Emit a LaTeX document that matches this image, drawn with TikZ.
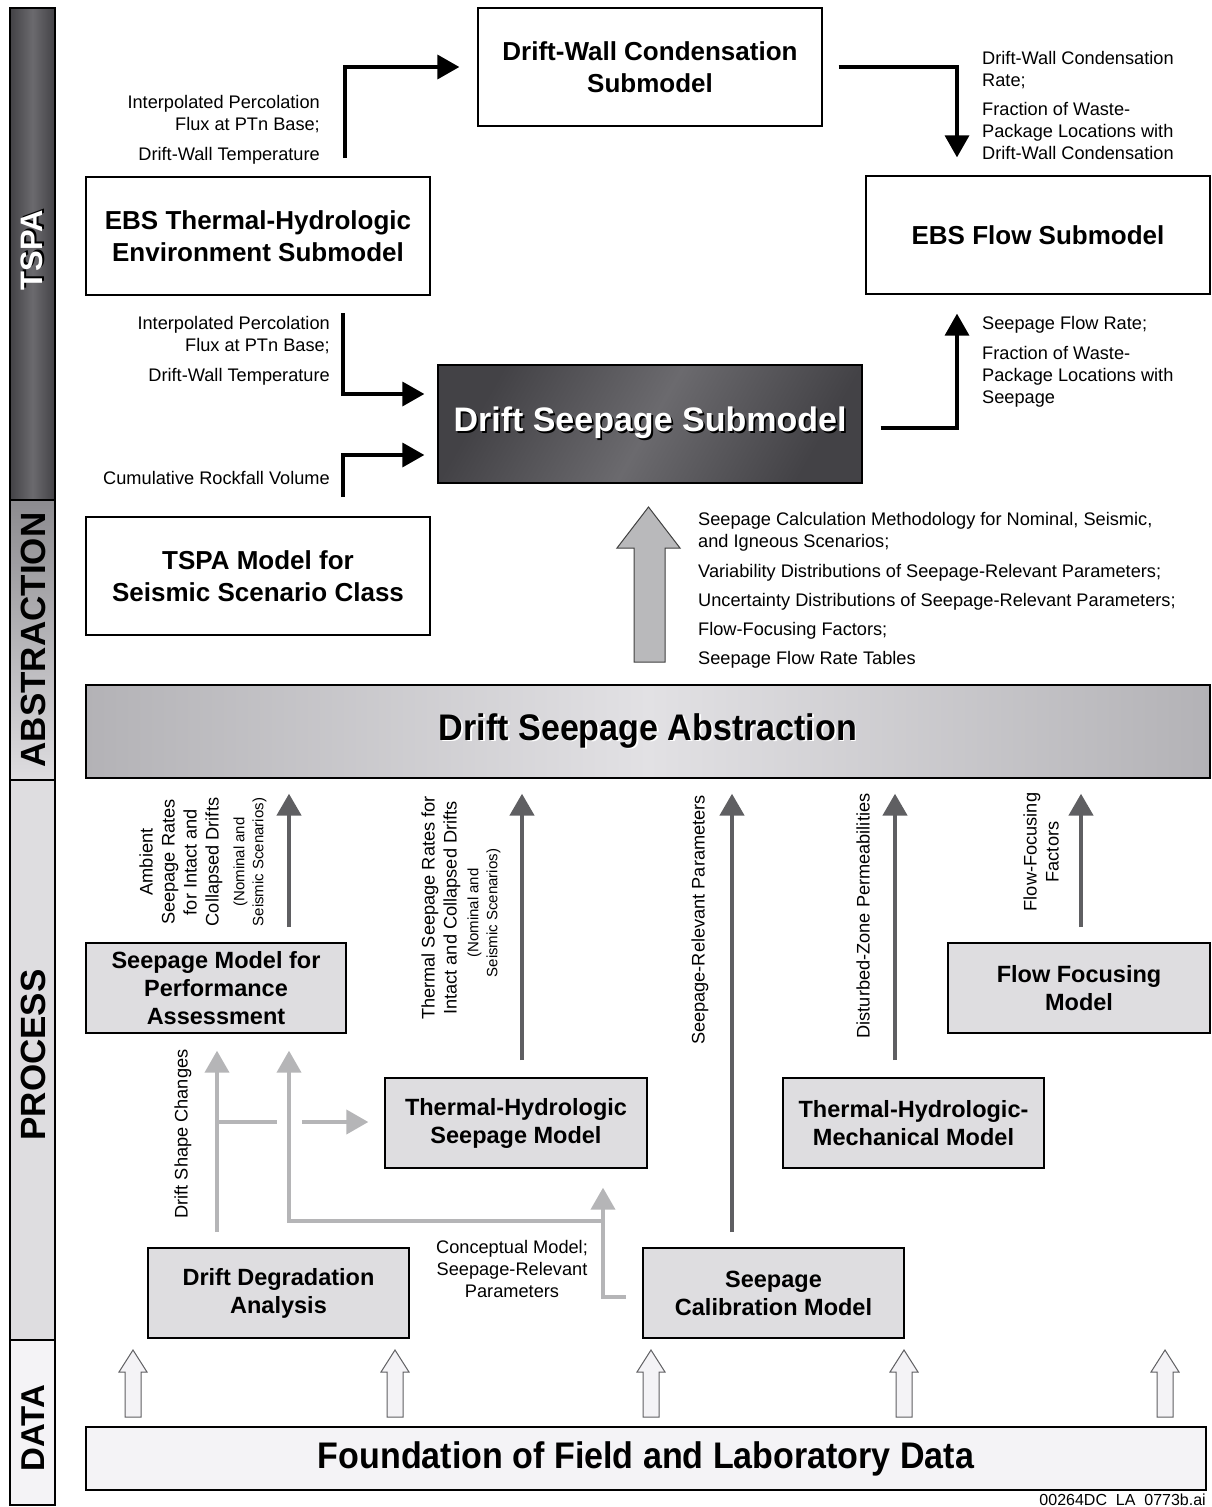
\documentclass[tikz,border=0pt]{standalone}
\usepackage{fontspec}
\setmainfont{Liberation Sans}
\usetikzlibrary{arrows.meta}

\definecolor{tspadark}{HTML}{434246}
\definecolor{tspalight}{HTML}{6B6A6E}
\definecolor{absdark}{HTML}{8C8B8F}
\definecolor{proclight}{HTML}{DEDDE0}
\definecolor{datalight}{HTML}{F4F3F6}
\definecolor{procgray}{HTML}{5F5F62}
\definecolor{auxgray}{HTML}{B5B5B7}
\definecolor{bigarrow}{HTML}{B9B9BB}
\definecolor{dsaedge}{HTML}{B3B2B6}
\definecolor{dsamid}{HTML}{E2E1E4}

\newcommand\fs[2]{\fontsize{#1}{#2}\selectfont}
\newcommand\castshadow[3]{\leavevmode\rlap{\hspace{1.8pt}\raisebox{-1.8pt}{\color{#2}#3}}{\color{#1}#3}}
\newcommand\narrowtext[2]{\scalebox{#1}[1]{#2}}

\begin{document}
\begin{tikzpicture}[x=1pt, y=-1pt, >={Triangle[length=22pt,width=24pt]},
    tbox/.style={draw, line width=1.3pt, fill=white, align=center, inner sep=0pt,
        minimum width=344pt, minimum height=118pt, font=\fs{26}{32}\bfseries},
    pbox/.style={draw, line width=1.3pt, fill=proclight, align=center, inner sep=0pt,
        minimum width=261pt, minimum height=90pt, font=\fs{23.5}{28}\bfseries},
    note/.style={inner sep=0pt, font=\fs{18.2}{22}},
    scen/.style={inner sep=0pt, font=\fs{15}{19}, align=center, rotate=90},
    flow/.style={->, line width=3.5pt},
    proc/.style={->, draw=procgray, line width=4.5pt},
    aux/.style={draw=auxgray, line width=4pt},
    band/.style={font=\fs{35}{35}\bfseries, rotate=90, inner sep=0pt}]
    \useasboundingbox (0,0) rectangle (1211,1507);
    % side bands
    \shade[left color=tspadark, right color=tspadark, middle color=tspalight] (10,8) rectangle (55,500);
    \shade[top color=absdark, bottom color=proclight] (10,500) rectangle (55,780);
    \fill[proclight] (10,780) rectangle (55,1340);
    \fill[datalight] (10,1340) rectangle (55,1505);
    \draw[line width=1.2pt] (10,8) rectangle (55,1505);
    \draw[line width=1.2pt] (10,500) -- (55,500) (10,780) -- (55,780) (10,1340) -- (55,1340);
    \node[band, font=\fs{31}{31}\bfseries] (tspalbl) at (33,250) {\castshadow{white}{black}{TSPA}};
    \node[band] (abslbl) at (33,640) {ABSTRACTION};
    \node[band] (proclbl) at (33,1055) {PROCESS};
    \node[band, font=\fs{33}{33}\bfseries] (datalbl) at (33,1428) {DATA};
    % TSPA boxes
    \node[tbox] (dwc) at (650,67) {Drift-Wall Condensation\\Submodel};
    \node[tbox] (ebsth) at (258,236) {EBS Thermal-Hydrologic\\Environment Submodel};
    \node[tbox] (ebsflow) at (1038,235) {EBS Flow Submodel};
    \node[draw, line width=1.3pt, minimum width=424pt, minimum height=118pt, inner sep=0pt,
        left color=tspadark, right color=tspadark, middle color=tspalight, shading angle=60,
        font=\fs{34}{34}\bfseries] (dss) at (650,424) {\raisebox{-3pt}{\castshadow{white}{black}{Drift Seepage Submodel}}};
    \node[tbox] (tspaseis) at (258,576) {TSPA Model for\\Seismic Scenario Class};
    % abstraction
    \node[draw, line width=1.3pt, minimum width=1124pt, minimum height=93pt, inner sep=0pt,
        left color=dsaedge, right color=dsaedge, middle color=dsamid,
        font=\fs{37}{37}\bfseries] (dsa) at (648,731.5) {\raisebox{-3pt}{\castshadow{black}{white}{\narrowtext{0.92}{Drift Seepage Abstraction}}}};
    % process boxes
    \node[pbox, minimum width=260pt] (spa) at (216,988) {Seepage Model for\\Performance\\Assessment};
    \node[pbox, minimum width=262pt] (thsm) at (516,1123) {Thermal-Hydrologic\\Seepage Model};
    \node[pbox] (thmm) at (913.5,1123) {Thermal-Hydrologic-\\Mechanical Model};
    \node[pbox, minimum width=262pt] (ffm) at (1079,988) {Flow Focusing\\Model};
    \node[pbox] (dda) at (278.5,1293) {Drift Degradation\\Analysis};
    \node[pbox] (scm) at (773.5,1293) {Seepage\\Calibration Model};
    % data
    \node[draw, line width=1.3pt, fill=datalight, minimum width=1120pt, minimum height=63pt, inner sep=0pt,
        font=\fs{37}{37}\bfseries] (found) at (646,1458.5) {\raisebox{-3pt}{\narrowtext{0.92}{Foundation of Field and Laboratory Data}}};
    \node[anchor=east, inner sep=0pt, font=\fs{16}{16}] (fileid) at (1206,1500) {00264DC\ \ LA\ \ 0773b.ai};
    \foreach \x in {133,395,651,904,1165}
        \draw[draw=procgray, fill=datalight, line width=1pt] (\x-8,1417) -- (\x-8,1372) -- (\x-14,1372) -- (\x,1350)
            -- (\x+14,1372) -- (\x+8,1372) -- (\x+8,1417) -- cycle;
    % TSPA connections
    \coordinate (thtail) at (345,158);
    \coordinate (pctail) at (343,313);
    \coordinate (rftail) at (343,497);
    \draw[flow, shorten >=18pt] (thtail) |- (dwc.west);
    \draw[flow, shorten <=16pt, shorten >=18pt] (dwc.east) -| ([xshift=-81pt]ebsflow.north);
    \draw[flow, shorten >=13pt] (pctail) |- ([yshift=30pt]dss.west);
    \draw[flow, shorten >=13pt] (rftail) |- ([yshift=-31pt]dss.west);
    \draw[flow, shorten <=18pt, shorten >=19pt] ([yshift=-4pt]dss.east) -| ([xshift=-81pt]ebsflow.south);
    \node[note, anchor=north east, align=right] (pcnote1) at (320,95) {Interpolated Percolation\\Flux at PTn Base;\\[8pt]Drift-Wall Temperature};
    \node[note, anchor=north west, align=left] (dwcnote) at (982,51) {Drift-Wall Condensation\\Rate;\\[7pt]Fraction of Waste-\\Package Locations with\\Drift-Wall Condensation};
    \node[note, anchor=north east, align=right] (pcnote2) at (330,316) {Interpolated Percolation\\Flux at PTn Base;\\[8pt]Drift-Wall Temperature};
    \node[note, anchor=east] (rfnote) at (330,478) {Cumulative Rockfall Volume};
    \node[note, anchor=north west, align=left] (sfnote) at (982,316) {Seepage Flow Rate;\\[8pt]Fraction of Waste-\\Package Locations with\\Seepage};
    % abstraction to TSPA
    \draw[draw=black!75, fill=bigarrow, line width=1pt] (634,662) -- (634,548) -- (617,548) -- (648.5,507)
        -- (680,548) -- (665,548) -- (665,662) -- cycle;
    \node[note, anchor=north west, align=left] (absnote) at (698,512) {Seepage Calculation Methodology for Nominal, Seismic,\\and Igneous Scenarios;\\[8pt]Variability Distributions of Seepage-Relevant Parameters;\\[7pt]Uncertainty Distributions of Seepage-Relevant Parameters;\\[7pt]Flow-Focusing Factors;\\[7pt]Seepage Flow Rate Tables};
    % process to abstraction
    \coordinate (ambtail) at (289,927);
    \coordinate (thermtail) at (522,1060);
    \coordinate (sprtail) at (732,1232);
    \coordinate (dztail) at (895,1060);
    \coordinate (fftail) at (1081,927);
    \foreach \t in {ambtail,thermtail,sprtail,dztail,fftail}
        \draw[proc, shorten >=15pt] (\t) -- (\t |- dsa.south);
    \node[note, rotate=90, align=center] (ambnote) at (181,862) {Ambient\\Seepage Rates\\for Intact and\\Collapsed Drifts};
    \node[scen] (ambscen) at (250,862) {(Nominal and\\Seismic Scenarios)};
    \node[note, rotate=90, align=center] (thnote) at (441,908) {Thermal Seepage Rates for\\Intact and Collapsed Drifts};
    \node[scen] (thscen) at (484,913) {(Nominal and\\Seismic Scenarios)};
    \node[note, rotate=90] (sprnote) at (700,920) {Seepage-Relevant Parameters};
    \node[note, rotate=90] (dznote) at (863,916) {Disturbed-Zone Permeabilities};
    \node[note, rotate=90, align=center] (ffnote) at (1041,852) {Flow-Focusing\\Factors};
    % drift degradation and calibration feeds
    \coordinate (degtail) at (217,1232);
    \coordinate (branch) at (217,1122);
    \coordinate (hop) at (302,1122);
    \coordinate (calib) at (626,1297);
    \coordinate (split) at (603,1221);
    \coordinate (cmtail) at (289,1221);
    \draw[aux, ->, shorten >=17pt] (degtail) -- (degtail |- spa.south);
    \draw[aux] (branch) -- ++(60,0);
    \draw[aux, ->, shorten >=16pt] (hop) -- (hop -| thsm.west);
    \draw[aux, ->, shorten >=19pt] (calib) -| (split |- thsm.south);
    \draw[aux, ->, shorten >=17pt] (split) -- (cmtail) -- (cmtail |- spa.south);
    \node[note, rotate=90] (dsnote) at (183,1134) {Drift Shape Changes};
    \node[note, align=center] (cmnote) at (512,1269) {Conceptual Model;\\Seepage-Relevant\\Parameters};
\end{tikzpicture}
\end{document}
